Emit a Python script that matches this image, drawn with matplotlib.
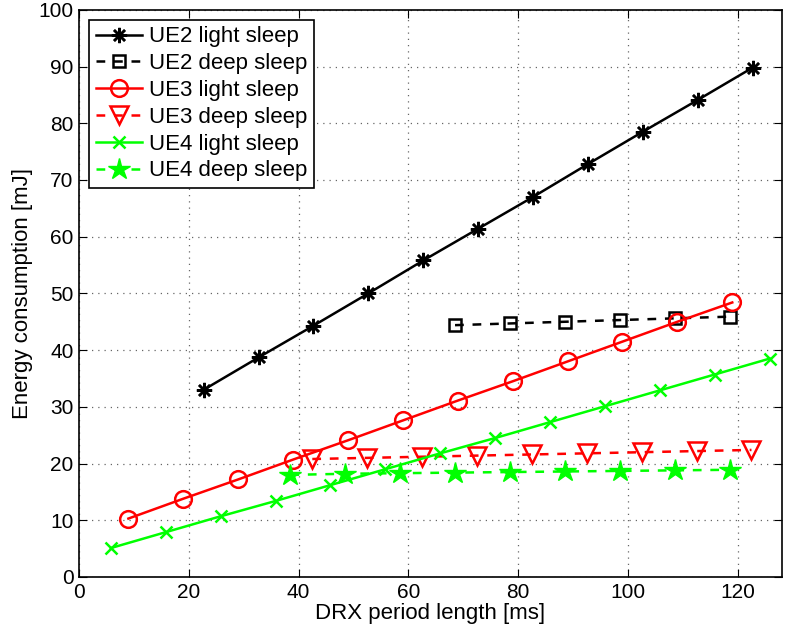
import matplotlib.pyplot as plt

plt.rcParams['font.family'] = ['Liberation Sans', 'DejaVu Sans']

# DRX period length [ms] and energy consumption [mJ]
ue2_light_x = [22.7, 32.7, 42.7, 52.7, 62.7, 72.7, 82.7, 92.7, 102.7, 112.7, 122.7]
ue2_light_y = [33.0, 38.7, 44.3, 50.0, 55.8, 61.4, 67.0, 72.8, 78.5, 84.1, 89.8]

ue2_deep_x = [68.5, 78.5, 88.5, 98.5, 108.5, 118.5]
ue2_deep_y = [44.4, 44.7, 45.0, 45.3, 45.6, 45.9]

ue3_light_x = [9, 19, 29, 39, 49, 59, 69, 79, 89, 99, 109, 119]
ue3_light_y = [10.3, 13.8, 17.2, 20.7, 24.1, 27.6, 31.1, 34.5, 38.0, 41.5, 45.0, 48.4]

ue3_deep_x = [42.5, 52.5, 62.5, 72.5, 82.5, 92.5, 102.5, 112.5, 122.5]
ue3_deep_y = [20.8, 21.0, 21.2, 21.4, 21.6, 21.8, 22.0, 22.2, 22.4]

ue4_light_x = [5.8, 15.8, 25.8, 35.8, 45.8, 55.8, 65.8, 75.8, 85.8, 95.8, 105.8, 115.8, 125.8]
ue4_light_y = [5.1, 7.9, 10.7, 13.4, 16.2, 19.0, 21.8, 24.5, 27.3, 30.1, 32.9, 35.7, 38.5]

ue4_deep_x = [38.5, 48.5, 58.5, 68.5, 78.5, 88.5, 98.5, 108.5, 118.5]
ue4_deep_y = [18.0, 18.2, 18.3, 18.4, 18.5, 18.6, 18.7, 18.8, 18.9]

fig = plt.figure(figsize=(7.86, 6.33), dpi=100)
ax = fig.add_axes([0.1005, 0.0885, 0.894, 0.896])

lw = 1.8
mew = 1.8
dash = (0, (3.5, 3.5))
ax.plot(ue2_light_x, ue2_light_y, '-', color='black', lw=lw, marker=(8, 2, 0),
        markersize=11, markeredgewidth=mew, label='UE2 light sleep')
ax.plot(ue2_deep_x, ue2_deep_y, linestyle=dash, color='black', lw=lw, marker='s',
        markersize=9, markerfacecolor='none', markeredgewidth=mew, label='UE2 deep sleep')
ax.plot(ue3_light_x, ue3_light_y, '-', color='red', lw=lw, marker='o',
        markersize=12, markerfacecolor='none', markeredgewidth=mew, label='UE3 light sleep')
ax.plot(ue3_deep_x, ue3_deep_y, linestyle=dash, color='red', lw=lw, marker='v',
        markersize=13, markerfacecolor='none', markeredgewidth=mew, label='UE3 deep sleep')
ax.plot(ue4_light_x, ue4_light_y, '-', color='#00ff00', lw=lw, marker='x',
        markersize=8, markeredgewidth=mew, label='UE4 light sleep')
ax.plot(ue4_deep_x, ue4_deep_y, linestyle=dash, color='#00ff00', lw=lw, marker='*',
        markersize=16, markeredgewidth=1.0, label='UE4 deep sleep')

ax.set_xlim(0, 128)
ax.set_ylim(0, 100)
ax.set_xticks(range(0, 121, 20))
ax.set_yticks(range(0, 101, 10))
ax.tick_params(direction='in', labelsize=15, top=True, right=True, length=6, pad=4)
ax.grid(True, linestyle=(0, (1, 4)), color='black', linewidth=0.9, alpha=0.6)
for s in ax.spines.values():
    s.set_linewidth(1.2)

ax.set_xlabel('DRX period length [ms]', fontsize=16, labelpad=1)
ax.set_ylabel('Energy consumption [mJ]', fontsize=16, labelpad=4)

leg = ax.legend(loc='upper left', fontsize=16, handlelength=2.1, fancybox=False,
                framealpha=1, edgecolor='black', borderaxespad=0.45,
                labelspacing=0.26, borderpad=0.3, handletextpad=0.3)
leg.get_frame().set_linewidth(1.2)

fig.savefig('out.png', dpi=100)
